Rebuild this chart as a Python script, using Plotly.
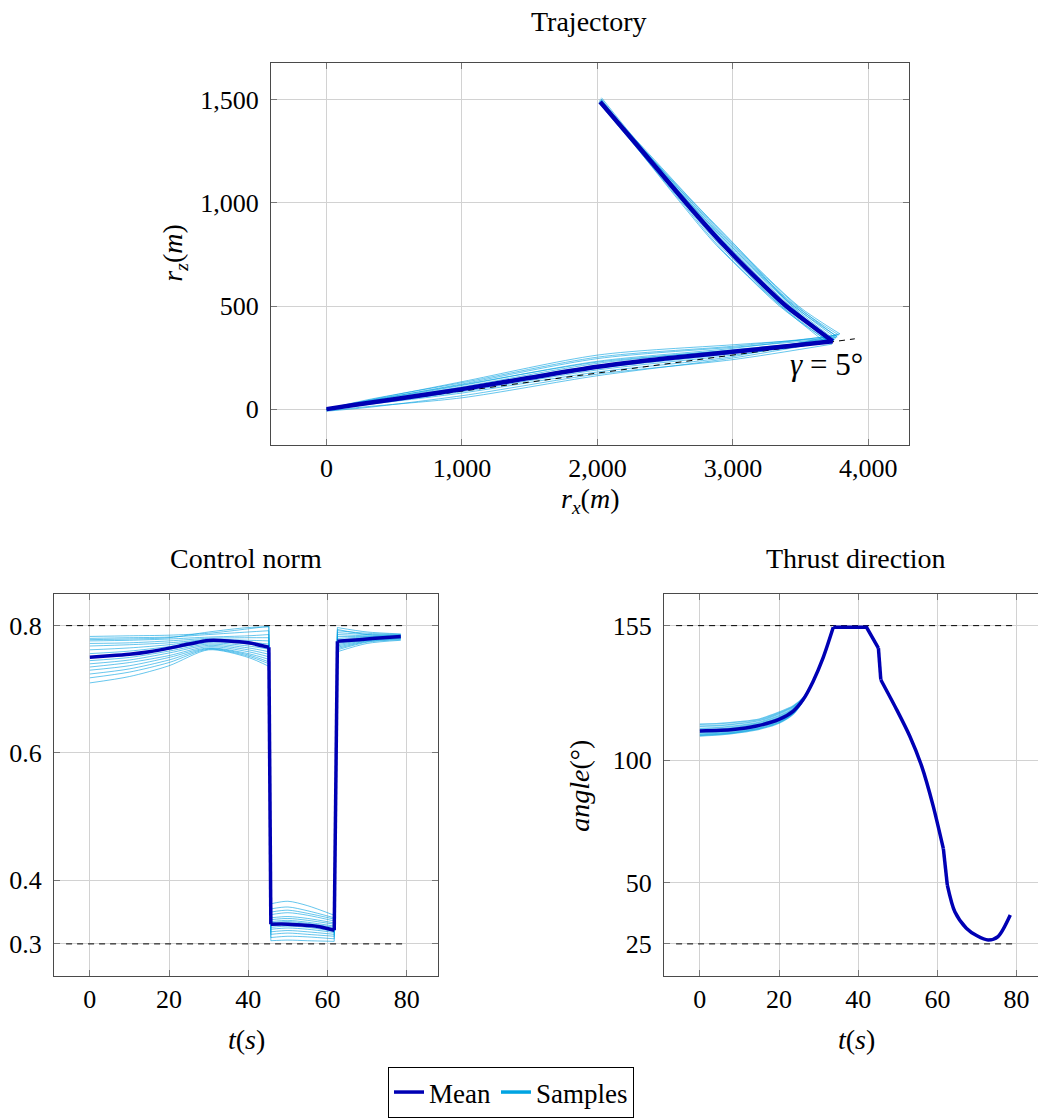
import plotly.graph_objects as go

W, H = 1038, 1118

# ---------------- data ----------------
# Trajectory (r_x, r_z) in metres: mean path from start to glide-slope entry to origin
traj_mean_x = [2020, 2300, 2655, 2937, 3200, 3393, 3600, 3737, 3400, 3000, 2500, 2000, 1500, 1000, 500, 200, 0]
traj_mean_y = [1490, 1275, 1000, 792, 618, 500, 396, 329, 305, 278, 245, 205, 152, 97, 48, 20, 0]
traj_corner = 7  # index of the glide-slope entry point in the mean path

traj_samples_x = [
    [2025, 2310, 2685, 2987, 3453, 3760, 3000, 2000, 1000, 300, 0],
    [2015, 2295, 2645, 2922, 3368, 3720, 3000, 2000, 1000, 300, 0],
    [2030, 2315, 2695, 2997, 3463, 3780, 3000, 2000, 1000, 300, 0],
    [2010, 2285, 2625, 2892, 3343, 3700, 3000, 2000, 1000, 300, 0],
    [2022, 2305, 2675, 2972, 3438, 3750, 3000, 2000, 1000, 300, 0],
    [2018, 2320, 2700, 3007, 3473, 3770, 3000, 2000, 1000, 300, 0],
    [2025, 2290, 2635, 2907, 3358, 3710, 3000, 2000, 1000, 300, 0],
    [2012, 2325, 2710, 3017, 3483, 3790, 3000, 2000, 1000, 300, 0],
    [2028, 2300, 2665, 2962, 3423, 3745, 3000, 2000, 1000, 300, 0],
    [2020, 2335, 2715, 3022, 3433, 3730, 3000, 2000, 1000, 300, 0],
    [2016, 2280, 2615, 2882, 3353, 3690, 3000, 2000, 1000, 300, 0],
    [2024, 2308, 2680, 2982, 3448, 3765, 3000, 2000, 1000, 300, 0],
]
traj_samples_y = [
    [1505, 1280, 1000, 792, 500, 345, 312, 262, 133, 42, 0],
    [1500, 1275, 1000, 792, 500, 340, 300, 245, 122, 38, 0],
    [1510, 1280, 1000, 792, 500, 360, 295, 232, 115, 36, 0],
    [1485, 1270, 1000, 792, 500, 330, 288, 222, 108, 34, 0],
    [1495, 1275, 1000, 792, 500, 338, 282, 212, 103, 31, 0],
    [1492, 1272, 1000, 792, 500, 350, 270, 198, 92, 28, -5],
    [1498, 1278, 1000, 792, 500, 325, 262, 190, 85, 25, 0],
    [1488, 1270, 1000, 792, 500, 365, 255, 180, 78, 22, -3],
    [1502, 1280, 1000, 792, 500, 333, 248, 162, 55, 12, -8],
    [1490, 1270, 1000, 792, 500, 315, 240, 170, 65, 8, -10],
    [1494, 1276, 1000, 792, 500, 320, 285, 228, 118, 40, 0],
    [1500, 1277, 1000, 792, 500, 355, 305, 252, 128, 45, 0],
]
traj_sample_corner = 5
glide_x = [0, 3900]
glide_y = [0, 341]
glide_label = "<i>γ</i> = 5°"

# Control norm
norm_t = [0, 5, 10, 15, 20, 25, 30, 35, 40, 45.2, 45.7, 50, 55, 58, 61.7, 62.5, 66, 70, 74, 78.5]
norm_mean = [0.7505, 0.7525, 0.755, 0.759, 0.7646, 0.771, 0.7766, 0.776, 0.773, 0.766,
             0.331, 0.331, 0.329, 0.327, 0.3215, 0.7755, 0.777, 0.779, 0.781, 0.783]
norm_samples_t = [0, 10, 20, 30, 40, 45.2, 45.7, 50, 55, 61.7, 62.5, 70, 78.5]
norm_samples = [
    [0.783, 0.784, 0.785, 0.788, 0.795, 0.799, 0.363, 0.367, 0.360, 0.345, 0.797, 0.790, 0.787],
    [0.780, 0.781, 0.782, 0.786, 0.790, 0.792, 0.355, 0.358, 0.352, 0.341, 0.792, 0.788, 0.786],
    [0.776, 0.777, 0.779, 0.782, 0.784, 0.786, 0.346, 0.349, 0.345, 0.336, 0.789, 0.786, 0.785],
    [0.772, 0.773, 0.776, 0.780, 0.781, 0.781, 0.341, 0.343, 0.340, 0.333, 0.786, 0.784, 0.784],
    [0.768, 0.770, 0.773, 0.778, 0.777, 0.776, 0.338, 0.340, 0.337, 0.331, 0.783, 0.783, 0.784],
    [0.762, 0.765, 0.770, 0.777, 0.774, 0.771, 0.335, 0.337, 0.334, 0.328, 0.780, 0.782, 0.783],
    [0.756, 0.760, 0.767, 0.775, 0.771, 0.767, 0.333, 0.335, 0.332, 0.326, 0.777, 0.781, 0.783],
    [0.750, 0.755, 0.763, 0.773, 0.768, 0.763, 0.331, 0.333, 0.330, 0.324, 0.775, 0.780, 0.782],
    [0.745, 0.750, 0.760, 0.771, 0.765, 0.759, 0.329, 0.331, 0.328, 0.322, 0.772, 0.779, 0.782],
    [0.740, 0.746, 0.757, 0.769, 0.762, 0.755, 0.326, 0.328, 0.326, 0.320, 0.770, 0.778, 0.781],
    [0.735, 0.742, 0.753, 0.767, 0.759, 0.751, 0.323, 0.325, 0.323, 0.318, 0.768, 0.777, 0.780],
    [0.730, 0.737, 0.750, 0.765, 0.756, 0.747, 0.319, 0.321, 0.319, 0.315, 0.766, 0.776, 0.780],
    [0.724, 0.732, 0.746, 0.764, 0.754, 0.743, 0.315, 0.317, 0.315, 0.312, 0.764, 0.775, 0.779],
    [0.718, 0.727, 0.742, 0.763, 0.752, 0.740, 0.310, 0.312, 0.311, 0.308, 0.762, 0.774, 0.778],
    [0.710, 0.720, 0.737, 0.762, 0.750, 0.736, 0.305, 0.306, 0.305, 0.304, 0.759, 0.772, 0.777],
    [0.778, 0.779, 0.781, 0.790, 0.797, 0.798, 0.350, 0.353, 0.348, 0.339, 0.794, 0.786, 0.785],
]
# index ranges (start, end-exclusive) of the smooth phases between the switches
norm_mean_phases = [(0, 10), (10, 15), (15, 20)]
norm_sample_phases = [(0, 6), (6, 10), (10, 13)]
norm_bounds = [0.3, 0.8]
bound_t = [-6, 80]

# Thrust direction (deg)
thrust_t = [0, 8.4, 14.3, 20, 23.6, 26.1, 28.6, 31.1, 33.7, 42.1, 45.1, 45.7, 49.7, 53, 56,
            58.9, 61.5, 62.5, 64.4, 67.3, 70, 72.8, 75.3, 78.4]
thrust_mean = [112.0, 112.6, 114.0, 116.7, 120.1, 124.8, 132.2, 141.7, 154.3, 154.3, 145.8, 132.9,
               120.7, 109.9, 97.7, 81.5, 63.9, 49.0, 38.1, 31.4, 28.3, 26.6, 28.0, 36.8]
thrust_mean_phases = [(0, 9), (8, 11), (10, 12), (11, 17), (16, 18), (17, 24)]
thrust_samples_t = [0, 5, 10, 15, 20, 23.6, 26.1]
thrust_samples = [
    [114.7, 115.0, 115.7, 116.8, 119.6, 122.2, 125.5],
    [113.9, 114.2, 115.0, 116.2, 119.0, 121.8, 125.3],
    [113.0, 113.4, 114.2, 115.5, 118.2, 121.2, 125.1],
    [112.3, 112.7, 113.6, 114.9, 117.5, 120.7, 124.9],
    [111.2, 111.7, 112.6, 114.0, 116.4, 119.8, 124.7],
    [110.6, 111.1, 112.0, 113.4, 115.9, 119.4, 124.6],
    [110.2, 110.7, 111.6, 113.0, 115.5, 119.1, 124.5],
    [109.9, 110.4, 111.3, 112.7, 115.2, 118.9, 124.4],
]
thrust_bounds = [25, 155]

# ---------------- style ----------------
MEAN = "rgb(0,0,180)"
SAMP = "rgba(0,160,225,0.6)"
SAMP_LEG = "rgb(0,164,226)"
FONT = "Liberation Serif, DejaVu Serif, serif"
FS = 26
GRID = "#d2d2d2"
FRAME = "#4a4a4a"
DASH = "6px,5px"


def px(x):
    return x / W


def py(y):
    return 1 - y / H


fig = go.Figure()


def line(x, y, xa, ya, color, width, shape="linear", dash=None):
    fig.add_trace(go.Scatter(x=x, y=y, mode="lines",
                             line=dict(color=color, width=width, shape=shape, dash=dash,
                                       smoothing=0.8 if shape == "spline" else None),
                             showlegend=False, hoverinfo="skip", xaxis=xa, yaxis=ya))


def phased(t, v, phases, xa, ya, color, width):
    """Smooth phases joined by straight switching segments."""
    cx, cy = [], []
    for (a0, a1), (b0, b1) in zip(phases[:-1], phases[1:]):
        cx += [t[a1 - 1], t[b0], None]
        cy += [v[a1 - 1], v[b0], None]
    line(cx, cy, xa, ya, color, width)
    for s0, s1 in phases:
        line(t[s0:s1], v[s0:s1], xa, ya, color, width, "spline")


# --- trajectory ---
k = traj_sample_corner
for xs, ys in zip(traj_samples_x, traj_samples_y):
    line(xs[:k + 1], ys[:k + 1], "x", "y", SAMP, 1, "spline")
    line(xs[k:], ys[k:], "x", "y", SAMP, 1, "spline")
line(glide_x, glide_y, "x", "y", "black", 1, dash=DASH)
c = traj_corner
line(traj_mean_x[:c + 1], traj_mean_y[:c + 1], "x", "y", MEAN, 4.5, "spline")
line(traj_mean_x[c:], traj_mean_y[c:], "x", "y", MEAN, 4.5, "spline")

# --- control norm ---
for ys in norm_samples:
    phased(norm_samples_t, ys, norm_sample_phases, "x2", "y2", SAMP, 1)
for b in norm_bounds:
    line(bound_t, [b, b], "x2", "y2", "black", 1, dash=DASH)
phased(norm_t, norm_mean, norm_mean_phases, "x2", "y2", MEAN, 3.5)

# --- thrust direction ---
tail_start = thrust_t.index(28.6)
for ys in thrust_samples:
    line(thrust_samples_t + thrust_t[tail_start:tail_start + 3],
         ys + thrust_mean[tail_start:tail_start + 3], "x3", "y3", SAMP, 1.5, "spline")
for b in thrust_bounds:
    line(bound_t, [b, b], "x3", "y3", "black", 1, dash=DASH)
for s0, s1 in thrust_mean_phases:
    shape = "spline" if s1 - s0 > 3 else "linear"
    line(thrust_t[s0:s1], thrust_mean[s0:s1], "x3", "y3", MEAN, 3.5, shape)

# legend proxies
fig.add_trace(go.Scatter(x=[None], y=[None], mode="lines", line=dict(color=MEAN, width=3.5),
                         name="Mean", xaxis="x", yaxis="y"))
fig.add_trace(go.Scatter(x=[None], y=[None], mode="lines", line=dict(color=SAMP_LEG, width=3.5),
                         name="Samples", xaxis="x", yaxis="y"))


def axis(domain, rng, tickvals, anchor, mirror="allticks", fmt=None, standoff=6):
    d = dict(domain=domain, range=rng, tickvals=tickvals, anchor=anchor,
             showgrid=True, gridcolor=GRID, gridwidth=1, zeroline=False,
             showline=True, linecolor=FRAME, linewidth=1.2, mirror=mirror,
             ticks="inside", ticklen=6, tickcolor="#777", tickwidth=1,
             tickfont=dict(family=FONT, size=FS, color="black"), ticklabelstandoff=standoff)
    if fmt:
        d["tickformat"] = fmt
    return d


top_x = [px(271), px(909)]
top_y = [py(447), py(63)]
bl_x = [px(54), px(438)]
br_x = [px(664), 1.0]
b_y = [py(981), py(597)]

fig.update_layout(
    width=W, height=H, autosize=False,
    margin=dict(l=0, r=0, t=0, b=0),
    paper_bgcolor="white", plot_bgcolor="white",
    font=dict(family=FONT, size=FS, color="black"),
    xaxis=axis(top_x, [-410, 4300], [0, 1000, 2000, 3000, 4000], "y", fmt=",", standoff=0),
    yaxis=axis(top_y, [-172, 1680], [0, 500, 1000, 1500], "x", fmt=","),
    xaxis2=axis(bl_x, [-9.05, 87.9], [0, 20, 40, 60, 80], "y2", standoff=0),
    yaxis2=axis(b_y, [0.25, 0.85], [0.3, 0.4, 0.6, 0.8], "x2"),
    xaxis3=axis(br_x, [-9.05, 85.4], [0, 20, 40, 60, 80], "y3", standoff=0),
    yaxis3=axis(b_y, [12, 168], [25, 50, 100, 155], "x3", mirror=False),
    showlegend=True,
    legend=dict(orientation="h", x=px(511), xanchor="center", y=py(1073), yanchor="top",
                bgcolor="white", bordercolor="black", borderwidth=1,
                font=dict(family=FONT, size=27, color="black"), itemwidth=30,
                tracegroupgap=0),
)

ann = [
    dict(text="Trajectory", x=px(589), y=py(22)),
    dict(text="Control norm", x=px(246), y=py(562)),
    dict(text="Thrust direction", x=px(856), y=py(562)),
    dict(text="<i>r</i><sub><i>x</i></sub>(<i>m</i>)", x=px(590), y=py(503)),
    dict(text="<i>r</i><sub><i>z</i></sub>(<i>m</i>)", x=px(175), y=py(255), textangle=-90),
    dict(text="<i>t</i>(<i>s</i>)", x=px(246), y=py(1045)),
    dict(text="<i>t</i>(<i>s</i>)", x=px(856), y=py(1045)),
    dict(text="<i>angle</i>(°)", x=px(580), y=py(790), textangle=-90),
]
annotations = []
for a in ann:
    base = dict(xref="paper", yref="paper", showarrow=False, xanchor="center", yanchor="middle",
                font=dict(family=FONT, size=28, color="black"))
    base.update(a)
    annotations.append(base)
annotations.append(dict(text=glide_label, x=3690, y=217, xref="x", yref="y", showarrow=False,
                        xanchor="center", yanchor="middle",
                        font=dict(family=FONT, size=31, color="black")))
fig.update_layout(annotations=annotations)

fig.write_html("out.html", config={"displayModeBar": False},
               post_script="document.body.style.margin='0';document.body.style.overflow='hidden';")
